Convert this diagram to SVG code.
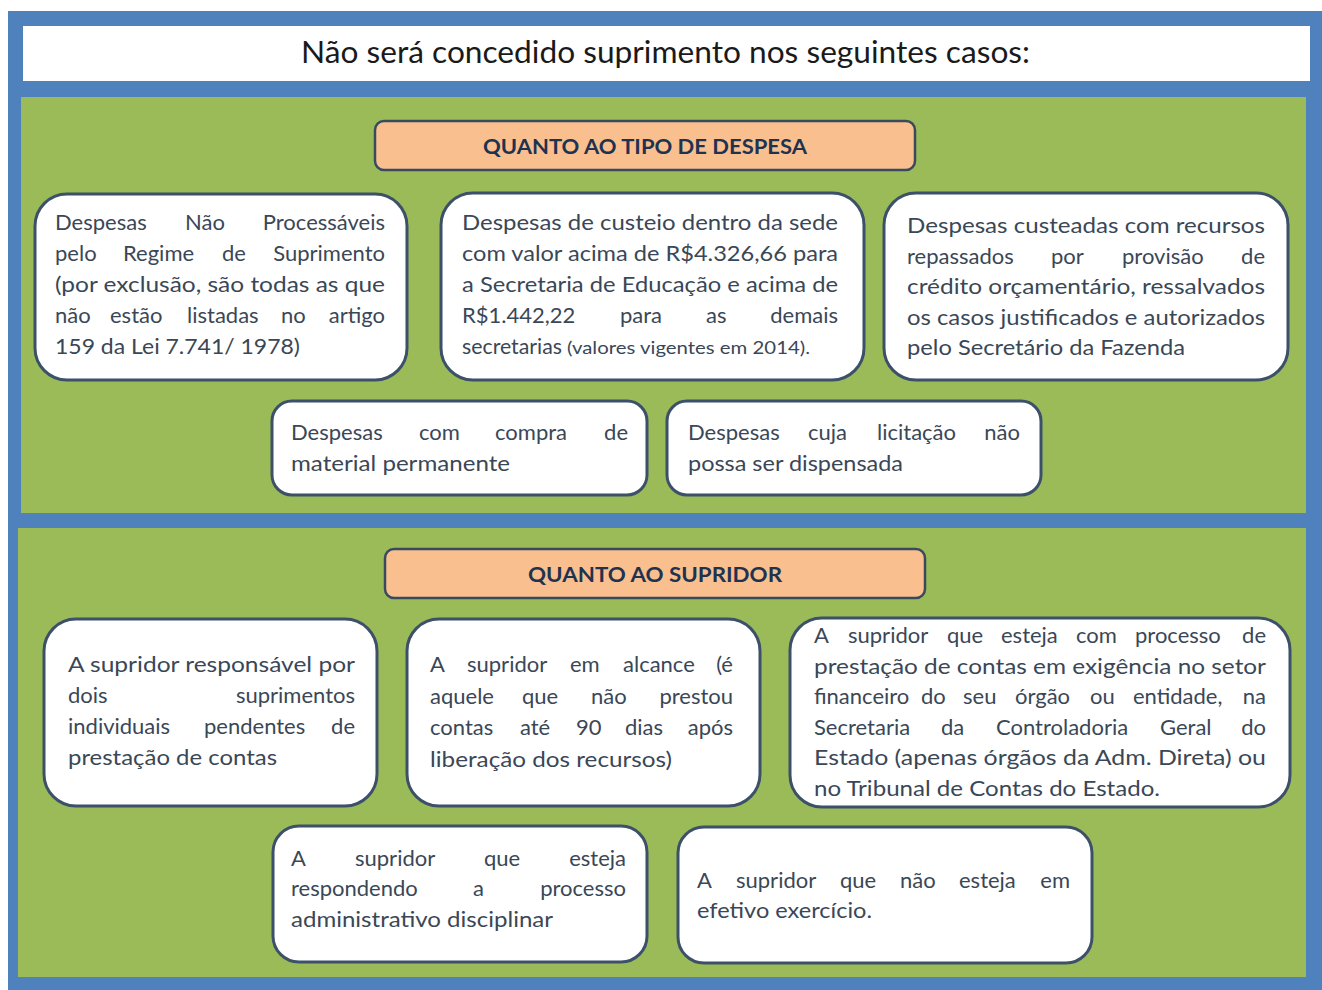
<svg xmlns="http://www.w3.org/2000/svg" width="1322" height="990" viewBox="0 0 1322 990">
<style>
.box{fill:#ffffff;stroke:#3c5169;stroke-width:3}
.hdr{fill:#f9bf8f;stroke:#3a4a5e;stroke-width:2.5}
.t{font-family:Lato,"Open Sans","Liberation Sans",sans-serif;font-size:22px;fill:#3a4756}
.s{font-size:17px}
.h{font-family:Lato,"Open Sans","Liberation Sans",sans-serif;font-size:21px;font-weight:bold;fill:#1f3350}
.title{font-family:Lato,"Open Sans","Liberation Sans",sans-serif;font-size:30px;fill:#1a1a1a}
.e{text-anchor:end}
</style>
<rect x="8" y="11" width="1314" height="979" fill="#4f81bd"/>
<g id="title">
<rect x="23" y="26" width="1287" height="55" fill="#ffffff"/>
<text class="title" x="301" y="63" textLength="729" lengthAdjust="spacingAndGlyphs">Não será concedido suprimento nos seguintes casos:</text>
</g>
<rect id="panel1" x="21" y="97" width="1285" height="416" fill="#9bbb59"/>
<rect id="panel2" x="18" y="528" width="1288" height="449" fill="#9bbb59"/>
<g id="connectors"></g>

<g id="header1">
<rect class="hdr" x="375" y="121" width="540" height="49" rx="9"/>
<text class="h" x="483" y="154" textLength="324" lengthAdjust="spacingAndGlyphs">QUANTO AO TIPO DE DESPESA</text>
</g>

<g id="boxA">
<rect class="box" x="35" y="194" width="372" height="186" rx="32"/>
<text class="t" y="230"><tspan x="55">Despesas</tspan><tspan x="185">Não</tspan><tspan x="385" class="e">Processáveis</tspan></text>
<text class="t" y="261"><tspan x="55">pelo</tspan><tspan x="123">Regime</tspan><tspan x="222">de</tspan><tspan x="385" class="e">Suprimento</tspan></text>
<text class="t" x="55" y="292" textLength="330" lengthAdjust="spacingAndGlyphs">(por exclusão, são todas as que</text>
<text class="t" y="323"><tspan x="55">não</tspan><tspan x="110">estão</tspan><tspan x="187">listadas</tspan><tspan x="281">no</tspan><tspan x="385" class="e">artigo</tspan></text>
<text class="t" x="55" y="354" textLength="245" lengthAdjust="spacingAndGlyphs">159 da Lei 7.741/ 1978)</text>
</g>

<g id="boxB">
<rect class="box" x="441" y="193" width="423" height="187" rx="32"/>
<text class="t" x="462" y="230" textLength="376" lengthAdjust="spacingAndGlyphs">Despesas de custeio dentro da sede</text>
<text class="t" x="462" y="261" textLength="376" lengthAdjust="spacingAndGlyphs">com valor acima de R$4.326,66 para</text>
<text class="t" x="462" y="292" textLength="376" lengthAdjust="spacingAndGlyphs">a Secretaria de Educação e acima de</text>
<text class="t" y="323"><tspan x="462">R$1.442,22</tspan><tspan x="620">para</tspan><tspan x="706">as</tspan><tspan x="838" class="e">demais</tspan></text>
<text class="t" x="462" y="354" textLength="100" lengthAdjust="spacingAndGlyphs">secretarias</text>
<text class="t s" x="567" y="354" textLength="243" lengthAdjust="spacingAndGlyphs">(valores vigentes em 2014).</text>
</g>

<g id="boxC">
<rect class="box" x="884" y="193" width="404" height="187" rx="32"/>
<text class="t" x="907" y="233" textLength="358" lengthAdjust="spacingAndGlyphs">Despesas custeadas com recursos</text>
<text class="t" y="263.5"><tspan x="907">repassados</tspan><tspan x="1051">por</tspan><tspan x="1122">provisão</tspan><tspan x="1265" class="e">de</tspan></text>
<text class="t" x="907" y="294" textLength="358" lengthAdjust="spacingAndGlyphs">crédito orçamentário, ressalvados</text>
<text class="t" x="907" y="324.5" textLength="358" lengthAdjust="spacingAndGlyphs">os casos justificados e autorizados</text>
<text class="t" x="907" y="355" textLength="278" lengthAdjust="spacingAndGlyphs">pelo Secretário da Fazenda</text>
</g>

<g id="boxD">
<rect class="box" x="272" y="401" width="375" height="94" rx="20"/>
<text class="t" y="440"><tspan x="291">Despesas</tspan><tspan x="419">com</tspan><tspan x="495">compra</tspan><tspan x="628" class="e">de</tspan></text>
<text class="t" x="291" y="471" textLength="219" lengthAdjust="spacingAndGlyphs">material permanente</text>
</g>

<g id="boxE">
<rect class="box" x="667" y="401" width="374" height="94" rx="20"/>
<text class="t" y="440"><tspan x="688">Despesas</tspan><tspan x="808">cuja</tspan><tspan x="877">licitação</tspan><tspan x="1020" class="e">não</tspan></text>
<text class="t" x="688" y="471" textLength="215" lengthAdjust="spacingAndGlyphs">possa ser dispensada</text>
</g>

<g id="header2">
<rect class="hdr" x="385" y="549" width="540" height="49" rx="9"/>
<text class="h" x="528" y="582" textLength="254" lengthAdjust="spacingAndGlyphs">QUANTO AO SUPRIDOR</text>
</g>

<g id="boxF">
<rect class="box" x="44" y="619" width="333" height="187" rx="32"/>
<text class="t" x="68" y="672" textLength="287" lengthAdjust="spacingAndGlyphs">A supridor responsável por</text>
<text class="t" y="703"><tspan x="68">dois</tspan><tspan x="355" class="e">suprimentos</tspan></text>
<text class="t" y="734"><tspan x="68">individuais</tspan><tspan x="204">pendentes</tspan><tspan x="355" class="e">de</tspan></text>
<text class="t" x="68" y="765" textLength="209" lengthAdjust="spacingAndGlyphs">prestação de contas</text>
</g>

<g id="boxG">
<rect class="box" x="407" y="619" width="353" height="187" rx="32"/>
<text class="t" y="672"><tspan x="430">A</tspan><tspan x="467">supridor</tspan><tspan x="570">em</tspan><tspan x="623">alcance</tspan><tspan x="733" class="e">(é</tspan></text>
<text class="t" y="703.5"><tspan x="430">aquele</tspan><tspan x="522">que</tspan><tspan x="591">não</tspan><tspan x="733" class="e">prestou</tspan></text>
<text class="t" y="735"><tspan x="430">contas</tspan><tspan x="520">até</tspan><tspan x="576">90</tspan><tspan x="625">dias</tspan><tspan x="733" class="e">após</tspan></text>
<text class="t" x="430" y="767" textLength="242" lengthAdjust="spacingAndGlyphs">liberação dos recursos)</text>
</g>

<g id="boxH">
<rect class="box" x="790" y="618" width="500" height="189" rx="32"/>
<text class="t" y="643"><tspan x="814">A</tspan><tspan x="848">supridor</tspan><tspan x="947">que</tspan><tspan x="1001">esteja</tspan><tspan x="1076">com</tspan><tspan x="1135">processo</tspan><tspan x="1266" class="e">de</tspan></text>
<text class="t" x="814" y="674" textLength="452" lengthAdjust="spacingAndGlyphs">prestação de contas em exigência no setor</text>
<text class="t" y="704"><tspan x="814">financeiro</tspan><tspan x="921">do</tspan><tspan x="963">seu</tspan><tspan x="1015">órgão</tspan><tspan x="1090">ou</tspan><tspan x="1133">entidade,</tspan><tspan x="1266" class="e">na</tspan></text>
<text class="t" y="735"><tspan x="814">Secretaria</tspan><tspan x="941">da</tspan><tspan x="996">Controladoria</tspan><tspan x="1160">Geral</tspan><tspan x="1266" class="e">do</tspan></text>
<text class="t" x="814" y="765" textLength="452" lengthAdjust="spacingAndGlyphs">Estado (apenas órgãos da Adm. Direta) ou</text>
<text class="t" x="814" y="796" textLength="346" lengthAdjust="spacingAndGlyphs">no Tribunal de Contas do Estado.</text>
</g>

<g id="boxI">
<rect class="box" x="273" y="826" width="374" height="136" rx="26"/>
<text class="t" y="866"><tspan x="291">A</tspan><tspan x="355">supridor</tspan><tspan x="484">que</tspan><tspan x="626" class="e">esteja</tspan></text>
<text class="t" y="896"><tspan x="291">respondendo</tspan><tspan x="473">a</tspan><tspan x="626" class="e">processo</tspan></text>
<text class="t" x="291" y="927" textLength="262" lengthAdjust="spacingAndGlyphs">administrativo disciplinar</text>
</g>

<g id="boxJ">
<rect class="box" x="678" y="827" width="414" height="136" rx="26"/>
<text class="t" y="888"><tspan x="697">A</tspan><tspan x="736">supridor</tspan><tspan x="840">que</tspan><tspan x="900">não</tspan><tspan x="959">esteja</tspan><tspan x="1070" class="e">em</tspan></text>
<text class="t" x="697" y="918" textLength="175" lengthAdjust="spacingAndGlyphs">efetivo exercício.</text>
</g>
</svg>
